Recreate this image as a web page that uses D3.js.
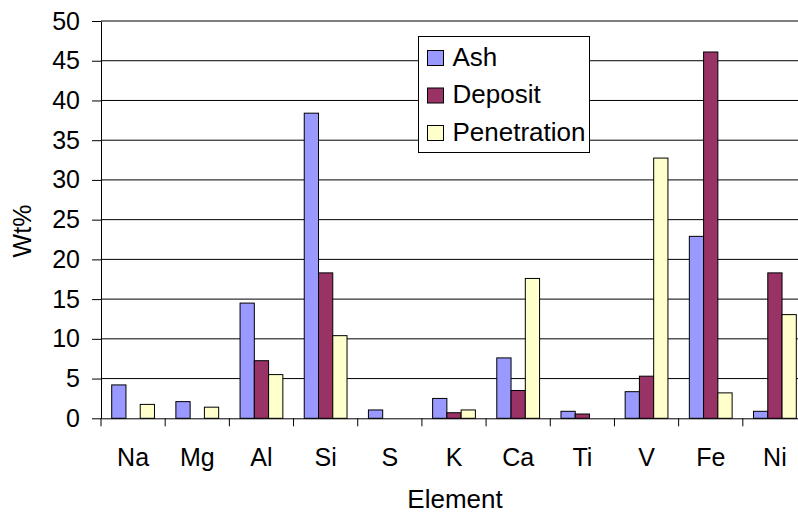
<!DOCTYPE html>
<html>
<head>
<meta charset="utf-8">
<script src="https://cdn.jsdelivr.net/npm/d3@7"></script>
<style>
  body { margin: 0; background: #fff; }
  svg { display: block; font-family: Arial, "Liberation Sans", sans-serif; }
  .axis path, .axis line { stroke: #000; }
</style>
</head>
<body>
<script>
// data
var elements = ["Na", "Mg", "Al", "Si", "S", "K", "Ca", "Ti", "V", "Fe", "Ni"];
var seriesNames = ["Ash", "Deposit", "Penetration"];
var ash = [4.2, 2.1, 14.5, 38.4, 1.05, 2.5, 7.6, 0.88, 3.35, 22.9, 0.88];
var deposit = [0, 0, 7.25, 18.3, 0, 0.7, 3.5, 0.54, 5.3, 46.1, 18.3];
var penetration = [1.75, 1.4, 5.5, 10.4, 0, 1.05, 17.6, 0, 32.75, 3.2, 13.05];
var yTicks = [0, 5, 10, 15, 20, 25, 30, 35, 40, 45, 50];
var colors = ["#9999FF", "#993366", "#FFFFCC"];

var seriesValues = [ash, deposit, penetration];

var width = 798, height = 515;
var margin = { left: 101, top: 21, right: 0, bottom: 97 };
var plotW = 706; // plot runs past the right edge of the picture
var plotH = height - margin.top - margin.bottom;

var svg = d3.select("body").append("svg")
  .attr("width", width)
  .attr("height", height);

var x = d3.scaleBand()
  .domain(elements)
  .range([0, plotW])
  .paddingInner(0)
  .paddingOuter(0);

var x1 = d3.scaleBand()
  .domain(seriesNames)
  .range([0, x.bandwidth()])
  .paddingInner(0)
  .paddingOuter(0.75);

var y = d3.scaleLinear()
  .domain([0, 50])
  .range([plotH + 0.3, 0]);

var g = svg.append("g")
  .attr("transform", "translate(" + margin.left + "," + margin.top + ")");

// gridlines
g.append("g")
  .selectAll("line")
  .data(yTicks.filter(function(d) { return d > 0; }))
  .enter().append("line")
  .attr("x1", 0)
  .attr("x2", plotW)
  .attr("y1", function(d) { return y(d); })
  .attr("y2", function(d) { return y(d); })
  .attr("stroke", "#000")
  .attr("stroke-width", 1);

// bars (zero values are not drawn)
seriesNames.forEach(function(name, si) {
  var rows = seriesValues[si]
    .map(function(v, i) { return { el: elements[i], v: v }; })
    .filter(function(d) { return d.v > 0; });
  g.append("g")
    .selectAll("rect")
    .data(rows)
    .enter().append("rect")
    .attr("x", function(d) { return x(d.el) + x1(name); })
    .attr("width", x1.bandwidth())
    .attr("y", function(d) { return y(d.v); })
    .attr("height", function(d) { return y(0) - y(d.v); })
    .attr("fill", colors[si])
    .attr("stroke", "#000")
    .attr("stroke-width", 1);
});

// y axis
var yAxis = g.append("g")
  .attr("class", "axis")
  .call(d3.axisLeft(y).tickValues(yTicks).tickSize(9).tickSizeOuter(0).tickPadding(12));
yAxis.selectAll("text")
  .attr("fill", "#000")
  .style("font-size", "25px");

// x axis: labels centred in bands, ticks on band boundaries
var xAxis = g.append("g")
  .attr("class", "axis")
  .attr("transform", "translate(0," + y(0) + ")")
  .call(d3.axisBottom(x).tickSize(0).tickSizeOuter(0).tickPadding(30));
xAxis.selectAll("text")
  .attr("fill", "#000")
  .style("font-size", "25px");
xAxis.selectAll(".boundary")
  .data(elements)
  .enter().append("line")
  .attr("class", "boundary")
  .attr("x1", function(d) { return x(d); })
  .attr("x2", function(d) { return x(d); })
  .attr("y1", 0)
  .attr("y2", 8)
  .attr("stroke", "#000");

// axis titles
svg.append("text")
  .attr("transform", "translate(31," + 231 + ") rotate(-90)")
  .attr("text-anchor", "middle")
  .style("font-size", "25px")
  .text("Wt%");

svg.append("text")
  .attr("x", 455)
  .attr("y", 508)
  .attr("text-anchor", "middle")
  .style("font-size", "26px")
  .text("Element");

// legend
var legend = svg.append("g")
  .attr("transform", "translate(418.5,36.5)");
legend.append("rect")
  .attr("width", 171)
  .attr("height", 116)
  .attr("fill", "#fff")
  .attr("stroke", "#000");
seriesNames.forEach(function(name, i) {
  var row = legend.append("g")
    .attr("transform", "translate(9," + (14 + i * 37.5) + ")");
  row.append("rect")
    .attr("width", 16)
    .attr("height", 15)
    .attr("fill", colors[i])
    .attr("stroke", "#000");
  row.append("text")
    .attr("x", 25)
    .attr("y", 15)
    .style("font-size", "26px")
    .text(name);
});
</script>
</body>
</html>
